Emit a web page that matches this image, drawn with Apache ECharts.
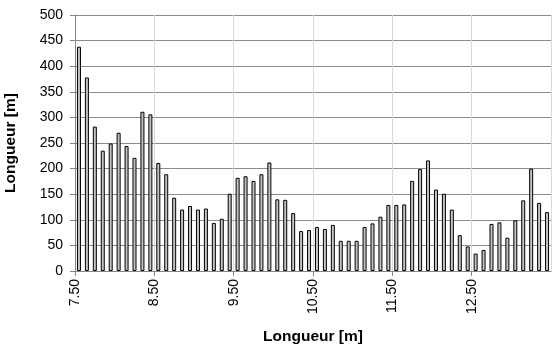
<!DOCTYPE html>
<html>
<head>
<meta charset="utf-8">
<script src="https://cdn.jsdelivr.net/npm/echarts@6/dist/echarts.min.js"></script>
<style>
  html, body { margin: 0; padding: 0; background: #fff; }
  #chart { width: 553px; height: 350px; }
</style>
</head>
<body>
<div id="chart"></div>
<script>
// bin starts (m), step 0.1 from 7.50
var binStart = [];
for (var i = 0; i < 60; i++) { binStart.push(+(7.5 + 0.1 * i).toFixed(2)); }

// length per bin [m]
var longueur = [
  438, 378, 282, 235, 249, 270, 244, 221, 311, 306,
  211, 189, 143, 120, 127, 120, 122, 94, 102, 151,
  182, 185, 176, 189, 212, 140, 139, 113, 78, 80,
  86, 82, 90, 59, 59, 59, 86, 93, 106, 129,
  129, 130, 176, 199, 216, 159, 151, 120, 70, 48,
  34, 41, 92, 95, 65, 99, 138, 200, 133, 115
];

var xTicks = ['7.50', '8.50', '9.50', '10.50', '11.50', '12.50'];

var chart = echarts.init(document.getElementById('chart'));
var font = 'Liberation Sans';

var option = {
    animation: false,
    grid: { left: 75, right: 2, top: 15, bottom: 79, outerBoundsMode: 'none' },
    xAxis: {
        type: 'value',
        min: 7.5,
        max: 13.5,
        interval: 1,
        name: 'Longueur [m]',
        nameLocation: 'middle',
        nameGap: 58,
        nameTextStyle: { fontFamily: font, fontSize: 15.5, fontWeight: 'bold', color: '#000' },
        axisLine: { lineStyle: { color: '#868686' } },
        axisTick: { show: true, inside: false, length: 5, lineStyle: { color: '#868686' } },
        axisLabel: {
            rotate: 90,
            margin: 8,
            showMaxLabel: false,
            fontFamily: font, fontSize: 14, color: '#000',
            formatter: function (v) {
                var s = v.toFixed(2);
                return xTicks.indexOf(s) >= 0 ? s : '';
            }
        },
        splitLine: { show: true, lineStyle: { color: '#d9d9d9' } }
    },
    yAxis: {
        type: 'value',
        min: 0,
        max: 500,
        interval: 50,
        name: 'Longueur [m]',
        nameLocation: 'middle',
        nameGap: 56,
        nameTextStyle: { fontFamily: font, fontSize: 15.5, fontWeight: 'bold', color: '#000' },
        axisLine: { show: true, lineStyle: { color: '#868686' } },
        axisTick: { show: true, inside: false, length: 5, lineStyle: { color: '#868686' } },
        axisLabel: { margin: 12, fontFamily: font, fontSize: 14, color: '#000' },
        splitLine: { show: true, lineStyle: { color: '#8c8c8c' } }
    },
    series: [{
        type: 'bar',
        barWidth: 4,
        itemStyle: { color: '#c4c4c4', borderColor: '#000', borderWidth: 1 },
        data: binStart.map(function (b, k) { return [b + 0.05, longueur[k]]; })
    }]
};

chart.setOption(option);
</script>
</body>
</html>
